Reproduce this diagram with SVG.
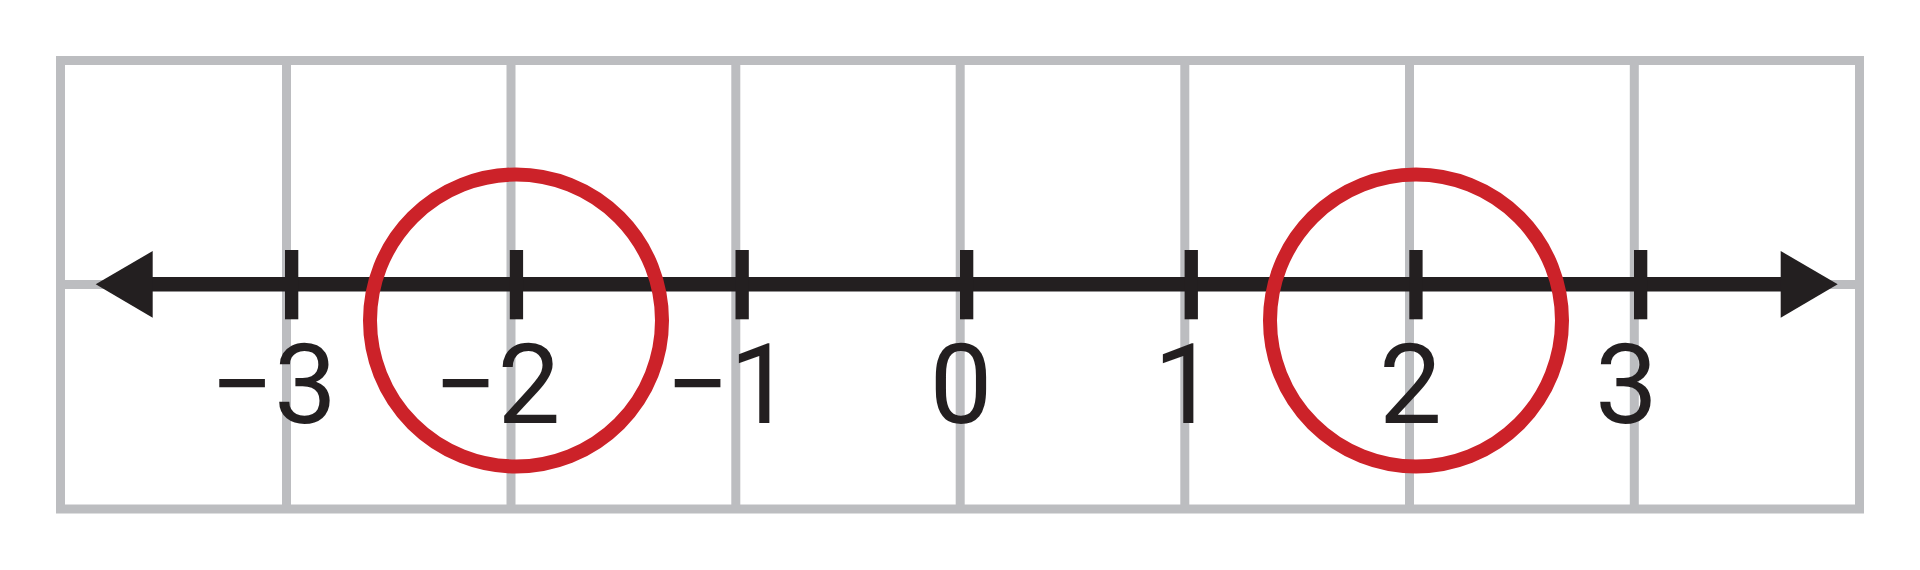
<svg xmlns="http://www.w3.org/2000/svg" width="1920" height="570" viewBox="0 0 1920 570">
  <style>
    .grid { fill: none; stroke: #BCBDC0; stroke-width: 9; }
    .axis { stroke: #231F20; stroke-width: 14.5; fill: none; }
    .tick { fill: #231F20; }
    .arrow { fill: #231F20; }
    .ring { fill: none; stroke: #CC2229; stroke-width: 14; }
  </style>
  <rect width="1920" height="570" fill="#FFFFFF"/>
  <g id="grid">
    <rect class="grid" x="60.5" y="60.5" width="1799" height="448.5"/>
    <line class="grid" x1="60.5" y1="284.5" x2="1859.5" y2="284.5"/>
    <line class="grid" x1="286.5" y1="60.5" x2="286.5" y2="509"/>
    <line class="grid" x1="511" y1="60.5" x2="511" y2="509"/>
    <line class="grid" x1="735.8" y1="60.5" x2="735.8" y2="509"/>
    <line class="grid" x1="960.2" y1="60.5" x2="960.2" y2="509"/>
    <line class="grid" x1="1184.8" y1="60.5" x2="1184.8" y2="509"/>
    <line class="grid" x1="1409.5" y1="60.5" x2="1409.5" y2="509"/>
    <line class="grid" x1="1634.3" y1="60.5" x2="1634.3" y2="509"/>
  </g>
  <g id="connectors">
    <line class="axis" x1="150" y1="284.3" x2="1783" y2="284.3"/>
    <polygon class="arrow" points="95.7,284.3 152.7,251 152.7,317.7"/>
    <polygon class="arrow" points="1837.7,284.3 1780.7,251 1780.7,317.7"/>
  </g>
  <g id="ticks">
    <rect class="tick" x="285" y="250" width="13.3" height="69.3"/>
    <rect class="tick" x="509.8" y="250" width="13.3" height="69.3"/>
    <rect class="tick" x="735.5" y="250" width="13.3" height="69.3"/>
    <rect class="tick" x="960" y="250" width="13.3" height="69.3"/>
    <rect class="tick" x="1184.6" y="250" width="13.3" height="69.3"/>
    <rect class="tick" x="1409.3" y="250" width="13.3" height="69.3"/>
    <rect class="tick" x="1634" y="250" width="13.3" height="69.3"/>
  </g>
  <g id="circle-neg2">
    <circle class="ring" cx="516" cy="320.5" r="146"/>
  </g>
  <g id="circle-2">
    <circle class="ring" cx="1416" cy="320.5" r="146"/>
  </g>
  <g id="labels" font-family="Roboto, 'Liberation Sans', sans-serif" font-size="112" fill="#231F20" text-anchor="middle">
    <text x="273.5" y="423">−3</text>
    <text x="497" y="423">−2</text>
    <text x="729" y="423">−1</text>
    <text x="961" y="423">0</text>
    <text x="1185" y="423">1</text>
    <text x="1410.5" y="423">2</text>
    <text x="1626.5" y="423">3</text>
  </g>
</svg>
